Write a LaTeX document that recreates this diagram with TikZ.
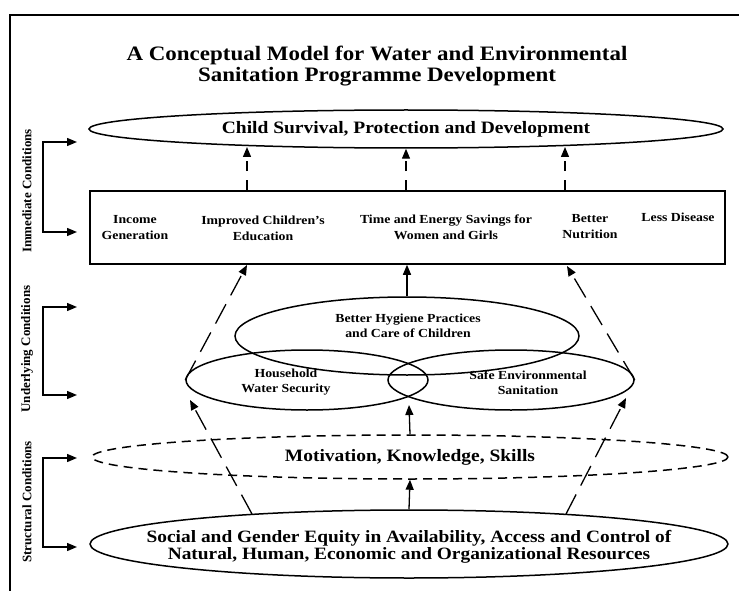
\documentclass[tikz,border=0pt]{standalone}
\usepackage{fontspec}
\setmainfont{Liberation Serif}[FakeStretch=1.12]
\newfontfamily\sidefont{Liberation Serif}
\usetikzlibrary{shapes.geometric,arrows.meta}

\tikzset{
  oval/.style={draw, ellipse, line width=1.5pt, inner sep=0pt},
  arr/.style={-{Triangle[length=10pt,width=8pt]}, line width=1.3pt},
  dasharr/.style={arr, dash pattern=on 10pt off 9pt},
  sidearr/.style={arr, dash pattern=on 22pt off 10pt},
  bracket/.style={{Triangle[length=10pt,width=8pt]}-{Triangle[length=10pt,width=8pt]}, line width=1.4pt},
  bigtext/.style={font=\fontsize{17.4}{17.5}\selectfont\bfseries, align=center},
  smalltext/.style={font=\fontsize{12.3}{16}\selectfont\bfseries, align=center},
  venntext/.style={font=\fontsize{12.3}{15}\selectfont\bfseries, align=center},
  sidetext/.style={font=\sidefont\fontsize{13}{15}\selectfont\bfseries, rotate=90},
}

\begin{document}
\begin{tikzpicture}[x=1pt,y=-1pt]
\useasboundingbox (0,0) rectangle (739,591);
\draw[line width=1.4pt] (739,15) -- (10,15) -- (10,591);

\node[font=\fontsize{20.5}{21}\selectfont\bfseries, align=center] (title) at (377,66) {A Conceptual Model for Water and Environmental\\Sanitation Programme Development};

\node[sidetext] (immediate) at (27,191) {Immediate Conditions};
\node[sidetext] (underlying) at (27,349) {Underlying Conditions};
\node[sidetext] (structural) at (27,502) {Structural Conditions};

\coordinate (imm1) at (77,142);
\coordinate (imm2) at (77,232);
\coordinate (und1) at (77,307);
\coordinate (und2) at (77,395);
\coordinate (str1) at (77,458);
\coordinate (str2) at (77,547);
\draw[bracket] (imm1) -- ++(-34,0) |- (imm2);
\draw[bracket] (und1) -- ++(-34,0) |- (und2);
\draw[bracket] (str1) -- ++(-34,0) |- (str2);

\node[oval, minimum width=634pt, minimum height=38pt, bigtext] (survival) at (406,129) {Child Survival, Protection and Development};

\node[draw, line width=1.5pt, minimum width=635pt, minimum height=73pt] (box) at (407.5,227.5) {};
\node[smalltext] (income) at (135,228) {Income\\Generation};
\node[smalltext] (education) at (263,228) {Improved Children's\\Education};
\node[smalltext] (savings) at (446,227.5) {Time and Energy Savings for\\Women and Girls};
\node[smalltext] (nutrition) at (590,226.5) {Better\\Nutrition};
\node[smalltext] (disease) at (678,217) {Less Disease};

\coordinate (up1) at (247,147);
\coordinate (up3) at (565,147);
\draw[dasharr] (box.north -| up1) -- (up1);
\draw[dasharr] (box.north -| survival.south) -- (survival.south);
\draw[dasharr] (box.north -| up3) -- (up3);

\node[oval, minimum width=344pt, minimum height=78pt] (hygiene) at (407,336) {};
\node[oval, minimum width=242pt, minimum height=60pt] (household) at (307,380) {};
\node[oval, minimum width=246pt, minimum height=60pt] (safe) at (511,380) {};
\node[venntext] (hygienetext) at (408,325.5) {Better Hygiene Practices\\and Care of Children};
\node[venntext] (householdtext) at (286,382.5) {Household\\Water Security};
\node[venntext] (safetext) at (528,382.5) {Safe Environmental\\Sanitation};

\draw[arr] (hygiene.north) -- (hygiene.north |- box.south);

\coordinate (edu) at (247,265);
\coordinate (nut) at (567,266);
\draw[sidearr] (household.west) -- (edu);
\draw[sidearr] (safe.east) -- (nut);

\node[oval, dash pattern=on 9pt off 6pt, minimum width=636pt, minimum height=44pt, bigtext] (motivation) at (410,457) {Motivation, Knowledge, Skills};

\node[oval, minimum width=638pt, minimum height=68pt] (social) at (409,544) {};
\node[bigtext, font=\fontsize{17.3}{17.5}\selectfont\bfseries] (socialtext) at (409,547) {Social and Gender Equity in Availability, Access and Control of\\Natural, Human, Economic and Organizational Resources};

\coordinate (venn) at (409,405);
\draw[arr] (motivation.north) -- (venn);
\draw[arr] (social.north) -- (motivation.south);

\coordinate (lowl) at (252,514);
\coordinate (lowr) at (566,514);
\coordinate (hw) at (190,400);
\coordinate (se) at (626,398);
\draw[sidearr] (lowl) -- (hw);
\draw[sidearr] (lowr) -- (se);
\end{tikzpicture}
\end{document}
